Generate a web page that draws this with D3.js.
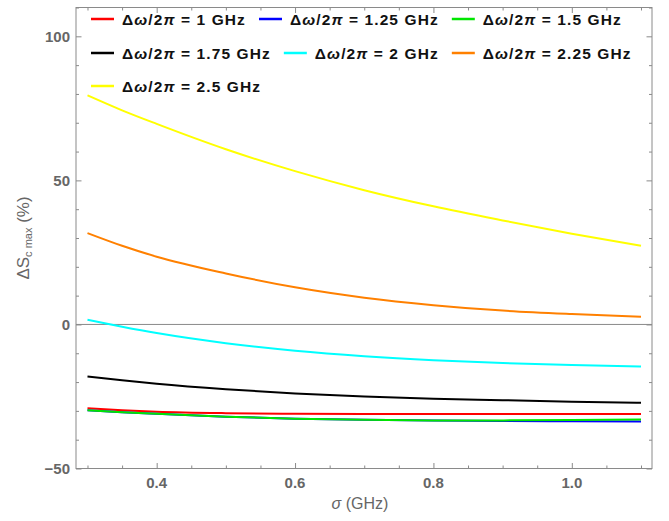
<!DOCTYPE html>
<html>
<head>
<meta charset="utf-8">
<script src="https://cdn.jsdelivr.net/npm/d3@7"></script>
<style>
  html, body { margin: 0; padding: 0; background: #fff; }
  svg { display: block; font-family: "Liberation Sans", Arial, sans-serif; }
</style>
</head>
<body>
<svg id="chart" width="669" height="521"></svg>
<script>
// σ sample points (GHz)
const sigma = [0.3, 0.35, 0.4, 0.5, 0.6, 0.7, 0.8, 0.9, 1.0, 1.1];

// ΔS_c max (%) for each detuning Δω/2π
const dw1_00 = [-29.1, -29.8, -30.3, -30.8, -31.0, -31.1, -31.1, -31.1, -31.1, -31.1];
const dw1_25 = [-29.8, -30.5, -31.0, -32.0, -32.7, -33.1, -33.3, -33.5, -33.6, -33.7];
const dw1_50 = [-29.8, -30.5, -31.0, -32.0, -32.7, -33.1, -33.3, -33.3, -33.2, -33.0];
const dw1_75 = [-18.1, -19.4, -20.6, -22.5, -23.95, -25.0, -25.75, -26.3, -26.8, -27.2];
const dw2_00 = [1.6, -0.8, -3.0, -6.5, -9.1, -11.0, -12.4, -13.4, -14.1, -14.6];
const dw2_25 = [31.7, 27.3, 23.5, 17.7, 12.9, 9.3, 6.7, 4.8, 3.6, 2.7];
const dw2_50 = [79.5, 74.3, 69.6, 60.8, 53.2, 46.6, 41.0, 36.1, 31.5, 27.3];

const seriesLabels = ["1", "1.25", "1.5", "1.75", "2", "2.25", "2.5"];
const seriesValues = [dw1_00, dw1_25, dw1_50, dw1_75, dw2_00, dw2_25, dw2_50];
const seriesColors = ["#ff0000", "#0000ff", "#00e600", "#000000", "#00ffff", "#ff8000", "#ffff00"];

const xMajorTicks = [0.4, 0.6, 0.8, 1.0];
const yMajorTicks = [-50, 0, 50, 100];

const svg = d3.select("#chart");
const W = 669, H = 521;
const frame = { left: 76, right: 652, top: 7.5, bottom: 468.5 };

const x = d3.scaleLinear().domain([0.2834, 1.1159]).range([frame.left, frame.right]);
const y = d3.scaleLinear().domain([-50, 110]).range([frame.bottom, frame.top]);

svg.append("rect").attr("width", W).attr("height", H).attr("fill", "#fff");

const frameColor = "#8a8a8a";
const labelColor = "#666";

// clip for plot curves
svg.append("clipPath").attr("id", "plotClip")
  .append("rect")
  .attr("x", frame.left).attr("y", frame.top)
  .attr("width", frame.right - frame.left).attr("height", frame.bottom - frame.top);

// zero axis line
svg.append("line")
  .attr("x1", frame.left).attr("x2", frame.right)
  .attr("y1", y(0)).attr("y2", y(0))
  .attr("stroke", "#8a8a8a").attr("stroke-width", 1);

// curves
const line = d3.line()
  .x((d, i) => x(sigma[i]))
  .y(d => y(d))
  .curve(d3.curveMonotoneX);

svg.append("g").attr("clip-path", "url(#plotClip)")
  .selectAll("path")
  .data(seriesValues)
  .join("path")
  .attr("d", d => line(d))
  .attr("fill", "none")
  .attr("stroke", (d, i) => seriesColors[i])
  .attr("stroke-width", 2);

// frame with inward ticks on all four sides
const xMinor = d3.range(0.3, 1.1001, 0.05).map(v => +v.toFixed(2));
const yMinor = d3.range(-50, 110.01, 10);

const tickSide = (g, scale, minor, major, orient) => {
  const isMajor = v => major.some(m => Math.abs(m - v) < 1e-6);
  const axis = (orient === "bottom" ? d3.axisBottom : orient === "top" ? d3.axisTop :
                orient === "left" ? d3.axisLeft : d3.axisRight)(scale)
    .tickValues(minor)
    .tickSizeOuter(0)
    .tickFormat("");
  g.call(axis);
  g.select(".domain").remove();
  g.selectAll(".tick line")
    .attr("stroke", frameColor)
    .each(function (d) {
      const len = isMajor(d) ? 5.5 : 3;
      const el = d3.select(this);
      if (orient === "bottom") el.attr("y2", -len);
      else if (orient === "top") el.attr("y2", len);
      else if (orient === "left") el.attr("x2", len);
      else el.attr("x2", -len);
    });
};

tickSide(svg.append("g").attr("transform", `translate(0,${frame.bottom})`), x, xMinor, xMajorTicks, "bottom");
tickSide(svg.append("g").attr("transform", `translate(0,${frame.top})`), x, xMinor, xMajorTicks, "top");
tickSide(svg.append("g").attr("transform", `translate(${frame.left},0)`), y, yMinor, yMajorTicks, "left");
tickSide(svg.append("g").attr("transform", `translate(${frame.right},0)`), y, yMinor, yMajorTicks, "right");

svg.append("rect")
  .attr("x", frame.left).attr("y", frame.top)
  .attr("width", frame.right - frame.left).attr("height", frame.bottom - frame.top)
  .attr("fill", "none").attr("stroke", frameColor).attr("stroke-width", 1);

// tick labels
svg.append("g").selectAll("text")
  .data(xMajorTicks)
  .join("text")
  .attr("x", d => x(d)).attr("y", frame.bottom + 19)
  .attr("text-anchor", "middle")
  .attr("font-size", 15).attr("font-weight", "bold")
  .attr("fill", labelColor)
  .text(d => d3.format(".1f")(d));

svg.append("g").selectAll("text")
  .data(yMajorTicks)
  .join("text")
  .attr("x", frame.left - 6).attr("y", d => y(d) + 5.5)
  .attr("text-anchor", "end")
  .attr("font-size", 15).attr("font-weight", "bold")
  .attr("fill", labelColor)
  .text(d => d < 0 ? "\u2212" + Math.abs(d) : d);

// axis titles
const xt = svg.append("text")
  .attr("x", (frame.left + frame.right) / 2 - 4).attr("y", 509)
  .attr("text-anchor", "middle")
  .attr("font-size", 16).attr("fill", labelColor);
xt.append("tspan").attr("font-style", "italic").text("σ");
xt.append("tspan").text(" (GHz)");

const yt = svg.append("text")
  .attr("transform", `translate(29,${238}) rotate(-90)`)
  .attr("text-anchor", "middle")
  .attr("font-size", 17).attr("fill", labelColor);
yt.append("tspan").text("ΔS");
yt.append("tspan").attr("font-size", 11).attr("dy", 3).text("c max");
yt.append("tspan").attr("dy", -3).text(" (%)");

// legend: flowing rows of three entries
const legend = svg.append("g");
const perRow = 3;
const rowY = [19, 53, 86];
const swatchLen = 23, swatchGap = 8, itemGap = 13, legendStart = 91;
let cursor = legendStart;
seriesLabels.forEach((lab, i) => {
  const row = Math.floor(i / perRow);
  if (i % perRow === 0) cursor = legendStart;
  const cy = rowY[row];
  const g = legend.append("g");
  g.append("line")
    .attr("x1", cursor).attr("x2", cursor + swatchLen)
    .attr("y1", cy).attr("y2", cy)
    .attr("stroke", seriesColors[i]).attr("stroke-width", 2.5);
  const t = g.append("text")
    .attr("x", cursor + swatchLen + swatchGap).attr("y", cy + 5.5)
    .attr("font-size", 15.5).attr("font-weight", "bold")
    .attr("letter-spacing", 1.1).attr("fill", "#111");
  t.append("tspan").text("Δ");
  t.append("tspan").attr("font-style", "italic").text("ω");
  t.append("tspan").text("/2");
  t.append("tspan").attr("font-style", "italic").text("π");
  t.append("tspan").text(` = ${lab} GHz`);
  cursor += swatchLen + swatchGap + t.node().getComputedTextLength() + itemGap;
});
</script>
</body>
</html>
